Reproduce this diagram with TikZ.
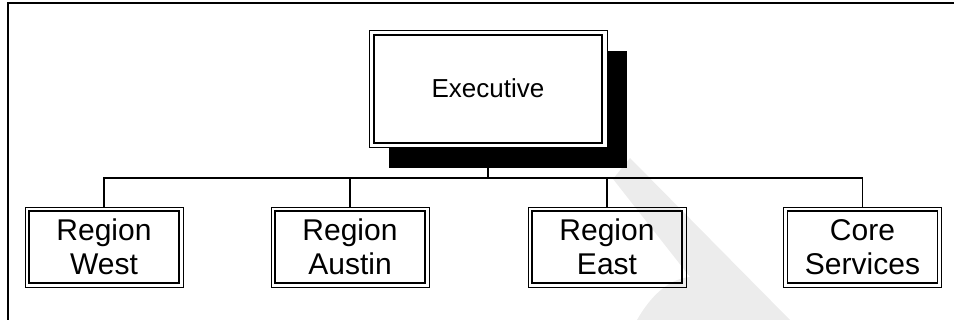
\documentclass[tikz,border=0pt]{standalone}
\usepackage{fontspec}
\setmainfont{Liberation Sans}
\usetikzlibrary{shadows}
\definecolor{wmgray}{RGB}{236,236,236}
\tikzset{
  unit/.style  = {draw, line width=0.9pt, minimum width=158pt, minimum height=80pt, inner sep=0pt, align=center,
    font=\fontsize{30}{34}\selectfont,
    path picture={\draw[line width=1.7pt] ([shift={(4pt,4pt)}]path picture bounding box.south west)
      rectangle ([shift={(-4pt,-4pt)}]path picture bounding box.north east);}},
  head/.style  = {draw, line width=0.9pt, fill=white, minimum width=238pt, minimum height=117pt, inner sep=0pt,
    font=\fontsize{26}{30}\selectfont,
    drop shadow={shadow xshift=20pt, shadow yshift=-21pt, opacity=1, fill=black},
    path picture={\draw[line width=1.7pt] ([shift={(5pt,4pt)}]path picture bounding box.south west)
      rectangle ([shift={(-5pt,-5pt)}]path picture bounding box.north east);}},
  link/.style  = {line width=1.2pt},
}
\begin{document}
\begin{tikzpicture}[x=1pt, y=-1pt]
  \useasboundingbox (0,0) rectangle (954,320);
  % watermark
  \fill[wmgray] (613,179) -- (630,158) -- (790,320) -- (637,320)
    .. controls (650,297) and (668,279) .. (690,277) -- cycle;
  % frame
  \draw[link] (8,320) -- (8,3) -- (954,3);

  \node[head] (exe) at (488,88.5) {Executive};
  \node[unit] (wst)  at (104,247)   {Region\\West};
  \node[unit] (aus)  at (350,247)   {Region\\Austin};
  \node[unit] (est)  at (607,247)   {Region\\East};
  \node[unit] (core) at (862.5,247) {Core\\Services};

  \coordinate (bus) at (488,178);
  \draw[link] (exe.south) -- (bus);
  \draw[link] (wst.north) -- (wst.north |- bus) -- (core.north |- bus) -- (core.north);
  \draw[link] (aus.north) -- (aus.north |- bus);
  \draw[link] (est.north) -- (est.north |- bus);
\end{tikzpicture}
\end{document}
